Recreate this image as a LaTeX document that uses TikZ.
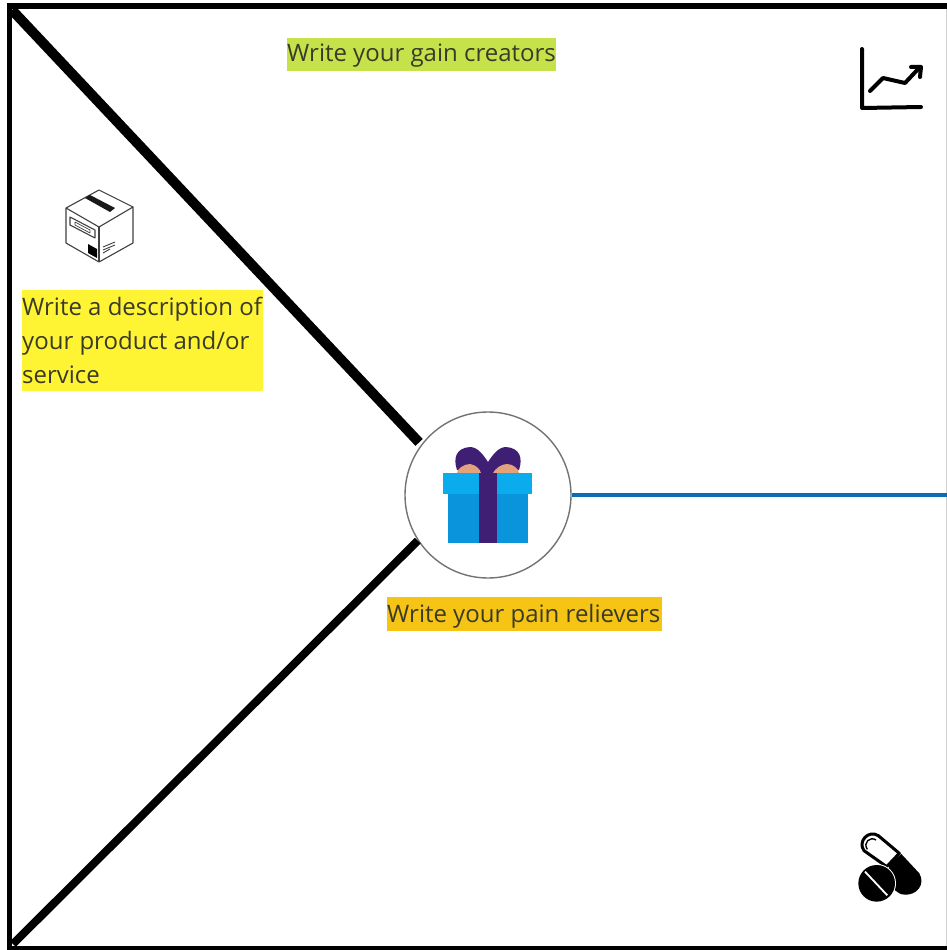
\documentclass[tikz,border=0pt]{standalone}
\usepackage{fontspec}
\setmainfont{Open Sans}
\definecolor{lblgreen}{HTML}{C6E24A}
\definecolor{lblyellow}{HTML}{FFF433}
\definecolor{lblorange}{HTML}{F6C414}
\definecolor{lbltext}{HTML}{3A3A2A}
\definecolor{hubblue}{HTML}{0A6EB4}
\definecolor{giftlid}{HTML}{0AACEE}
\definecolor{giftbody}{HTML}{0A94DC}
\definecolor{giftribbon}{HTML}{3F1F73}
\definecolor{giftskin}{HTML}{E2A27C}
\tikzset{
  label box/.style={inner sep=0pt,anchor=north west,text=lbltext,font=\fontsize{24}{34}\selectfont,align=left},
  icon line/.style={line width=#1,black,line cap=round,line join=round},
  icon line/.default=3pt
}
\begin{document}
\begin{tikzpicture}[x=1pt,y=-1pt]
\useasboundingbox (0,0) rectangle (947,950);
\fill[white] (0,0) rectangle (947,950);
% frame
\draw[black!18,line width=1pt] (946.5,8) -- (946.5,946);
\draw[black,line width=5.5pt,line join=miter] (947,6) -- (9.5,6) -- (9.5,948.5) -- (947,948.5);
% hub
\node[circle,draw=black!55,line width=1.4pt,fill=white,minimum size=166pt,inner sep=0pt] (hub) at (488,495) {};
\coordinate (tl) at (12,10);
\coordinate (bl) at (13,944);
\coordinate (re) at (947,495);
\draw[black,line width=10pt,shorten >=3pt] (tl) -- (hub.143);
\draw[black,line width=8pt] (bl) -- (hub.213);
\draw[hubblue,line width=4pt] (hub.east) -- (re);
% gift
\fill[giftribbon] (457,470) .. controls (453,458) and (456,448) .. (470,447) .. controls (478,447) and (484,456) .. (488,462) .. controls (492,456) and (498,447) .. (506,447) .. controls (520,448) and (523,458) .. (519,470) -- (497,474) -- (479,474) -- cycle;
\fill[giftskin] (457,473) .. controls (457,469) and (464,464) .. (470,464) .. controls (476,465) and (480,469) .. (481,473) -- cycle;
\fill[giftskin] (493,473) .. controls (495,469) and (501,464) .. (507,464) .. controls (513,464) and (519,469) .. (519,473) -- cycle;
\fill[giftbody] (448,494) rectangle (528,543);
\fill[giftlid] (443,473) rectangle (532,494);
\fill[giftribbon] (479,473) rectangle (497,543);
% labels
\fill[lblgreen] (287,38) rectangle (556,71);
\node[label box] (gain) at (287,44) {Write your gain creators};
\fill[lblyellow] (22,290) rectangle (263,391);
\node[label box] (desc) at (22,297) {Write a description of\\your product and/or\\service};
\fill[lblorange] (387,597) rectangle (662,631);
\node[label box] (pain) at (387,604) {Write your pain relievers};
% chart icon
\draw[icon line=4pt] (862,49) -- (862,108) -- (921,107);
\draw[icon line=4pt] (870,91) -- (883,78) -- (905,83) -- (920,67);
\draw[icon line=4pt] (911,67) -- (921,67) -- (920,77);
% box icon
\begin{scope}[line join=round,draw=black!75,line width=1.1pt]
\draw[fill=white] (99,190) -- (133,207) -- (133,243) -- (99,262) -- (66,243) -- (66,208) -- cycle;
\draw (66,208) -- (99,227) -- (133,207);
\draw (99,227) -- (99,262);
\fill[black!90] (85,198) -- (90,195) -- (115,208) -- (110,212) -- cycle;
\draw (70,217) -- (95,230) -- (95,238) -- (70,225) -- cycle;
\draw[line width=.7pt] (75,222) -- (90,230) -- (90,233) -- (75,225) -- cycle;
\fill[black] (88,244) -- (97,249) -- (97,258) -- (88,253) -- cycle;
\draw[line width=.9pt] (103,247) -- (115,242);
\draw[line width=.9pt] (103,250) -- (115,245);
\draw[line width=.9pt] (103,253) -- (110,249);
\end{scope}
% pill icon
\begin{scope}[shift={(840,820)},x=0.3333pt,y=-0.3333pt]
\draw[black,line width=3pt,fill=white,line join=round] (178,100) -- (140,140) -- (72,92) .. controls (52,65) and (85,28) .. (115,47) -- cycle;
\draw[black,line width=1.4pt] (82,88) .. controls (68,68) and (90,48) .. (108,60);
\fill[black] (184,102) -- (238,160) .. controls (258,195) and (228,226) .. (195,224) .. controls (170,223) and (160,205) .. (150,190) -- (146,134) -- cycle;
\fill[white] (110,190) circle (58);
\fill[black] (110,190) circle (55);
\draw[white,line width=1.8pt] (75,155) -- (142,226);
\end{scope}
\end{tikzpicture}
\end{document}
